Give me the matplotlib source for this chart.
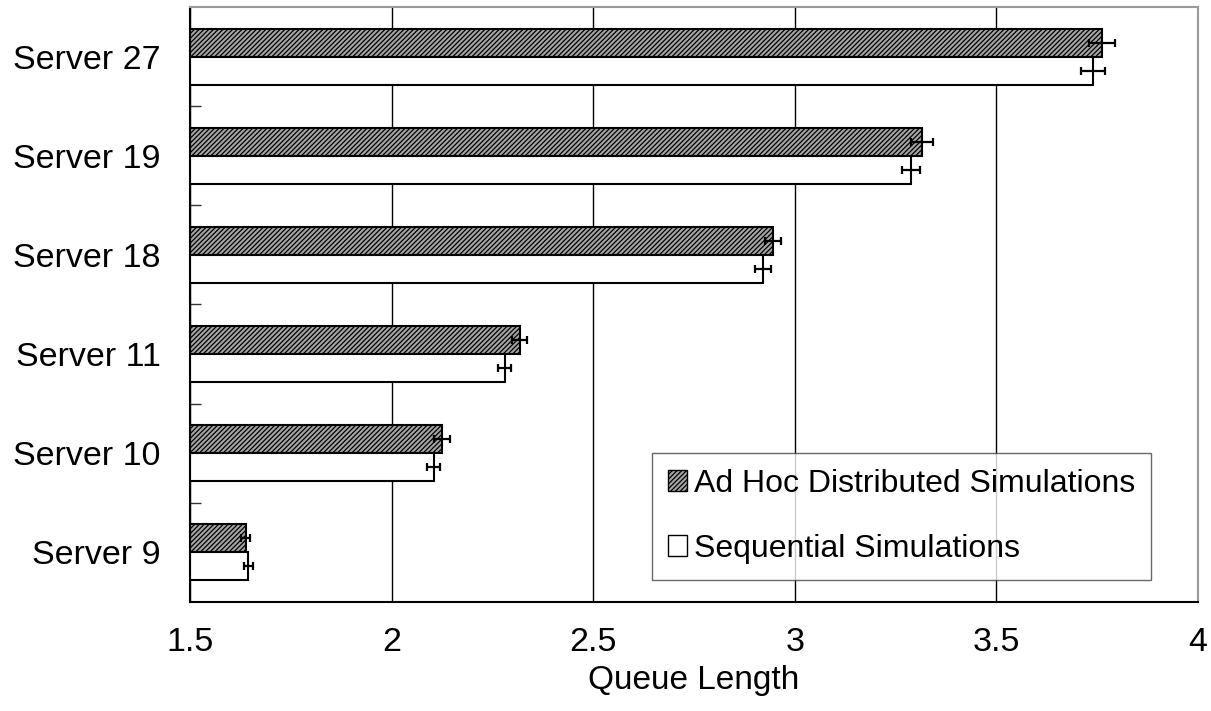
import matplotlib
matplotlib.use('Agg')
import matplotlib.pyplot as plt
import numpy as np

servers = ['Server 27', 'Server 19', 'Server 18', 'Server 11', 'Server 10', 'Server 9']
adhoc = [3.762, 3.315, 2.946, 2.318, 2.125, 1.638]
adhoc_err = [0.032, 0.027, 0.019, 0.019, 0.019, 0.011]
seq = [3.740, 3.288, 2.921, 2.281, 2.105, 1.645]
seq_err = [0.030, 0.022, 0.020, 0.016, 0.016, 0.012]
xticks = [1.5, 2, 2.5, 3, 3.5, 4]
xticklabels = ['1.5', '2', '2.5', '3', '3.5', '4']

plt.rcParams['font.family'] = ['Liberation Sans', 'DejaVu Sans']
plt.rcParams['hatch.linewidth'] = 0.9

fig = plt.figure(figsize=(12.11, 7.11), dpi=100)
ax = fig.add_axes([0.1569, 0.1533, 0.8324, 0.8369])

y = np.arange(len(servers))
h = 0.282
ax.set_axisbelow(True)
ax.xaxis.grid(True, color='black', linewidth=1)

ax.barh(y - h/2, [v - 1.5 for v in adhoc], height=h, left=1.5, color='#a6a6a6',
        edgecolor='black', hatch='///////', linewidth=1.5, label='Ad Hoc Distributed Simulations')
ax.barh(y + h/2, [v - 1.5 for v in seq], height=h, left=1.5, color='white',
        edgecolor='black', linewidth=1.5, label='Sequential Simulations')
ax.errorbar(adhoc, y - h/2, xerr=adhoc_err, fmt='none', ecolor='black', elinewidth=1.6,
            capsize=3, capthick=1.6)
ax.errorbar(seq, y + h/2, xerr=seq_err, fmt='none', ecolor='black', elinewidth=1.6,
            capsize=3, capthick=1.6)

ax.set_xlim(1.5, 4)
ax.set_ylim(len(servers) - 0.5, -0.5)
ax.set_xticks(xticks)
ax.set_xticklabels(xticklabels, fontsize=24.5)
ax.tick_params(axis='x', length=0, pad=18)
ax.set_yticks(y)
ax.set_yticklabels(servers, fontsize=24.5)
ax.tick_params(axis='y', which='major', length=0, pad=21)
ax.set_yticks(np.arange(0.5, len(servers) - 0.5, 1), minor=True)
ax.tick_params(axis='y', which='minor', direction='in', length=8, width=1, color='#333333')
ax.set_xlabel('Queue Length', fontsize=24, labelpad=5)

for s in ['left', 'bottom']:
    ax.spines[s].set_color('black')
    ax.spines[s].set_linewidth(1.5)
for s in ['top', 'right']:
    ax.spines[s].set_color('#999999')
    ax.spines[s].set_linewidth(1.5)

leg = ax.legend(loc='lower left', bbox_to_anchor=(0.458, 0.037, 0.495, 0.222), mode='expand',
                borderaxespad=0, fontsize=23, frameon=True, fancybox=False,
                handlelength=0.62, handleheight=0.62, handletextpad=0.2,
                labelspacing=1.1, borderpad=0.5)
leg.get_frame().set_edgecolor('#444444')
leg.get_frame().set_linewidth(1)
for p in leg.get_patches():
    p.set_linewidth(1)

fig.savefig('out.png', dpi=100)
